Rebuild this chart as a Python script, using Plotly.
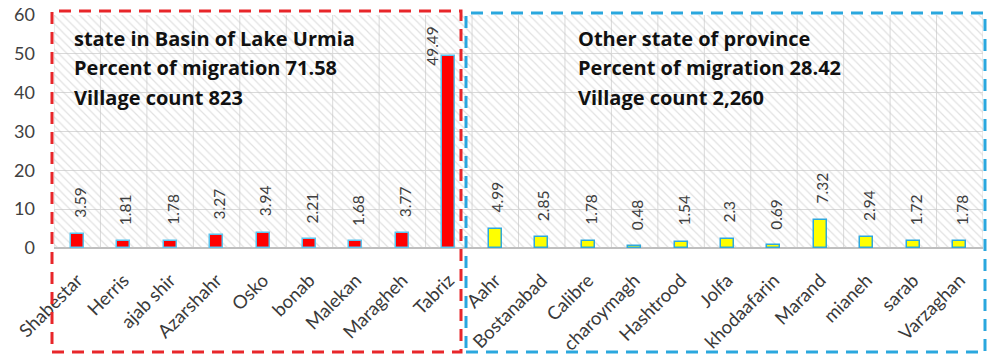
import plotly.graph_objects as go

basin_names = ["Shabestar", "Herris", "ajab shir", "Azarshahr", "Osko", "bonab", "Malekan", "Maragheh", "Tabriz"]
basin_values = [3.59, 1.81, 1.78, 3.27, 3.94, 2.21, 1.68, 3.77, 49.49]
basin_labels = ["3.59", "1.81", "1.78", "3.27", "3.94", "2.21", "1.68", "3.77", "49.49"]

other_names = ["Aahr", "Bostanabad", "Calibre", "charoymagh", "Hashtrood", "Jolfa", "khodaafarin",
               "Marand", "mianeh", "sarab", "Varzaghan"]
other_values = [4.99, 2.85, 1.78, 0.48, 1.54, 2.3, 0.69, 7.32, 2.94, 1.72, 1.78]
other_labels = ["4.99", "2.85", "1.78", "0.48", "1.54", "2.3", "0.69", "7.32", "2.94", "1.72", "1.78"]

basin_text = ["state in Basin of Lake Urmia", "Percent of migration 71.58", "Village count 823"]
other_text = ["Other state of province", "Percent of migration 28.42", "Village count 2,260"]

y_max = 60
all_names = basin_names + other_names

W, H = 992, 356
OFF = 0  # page body margin removed below
# target plot area in page pixels: x 54..983, y 15..248
ML, MR, MT, MB = 54 - OFF, W - (983 - OFF), 15 - OFF, H - (248 - OFF)
PW, PH = W - ML - MR, H - MT - MB

def px(x):
    return (x - OFF - ML) / PW

def py(y):
    return (H - MB - (y - OFF)) / PH

fig = go.Figure()

# hatched background
fig.add_trace(go.Bar(
    x=all_names, y=[y_max] * len(all_names), width=1,
    marker=dict(color="rgba(0,0,0,0)", line=dict(width=0),
                pattern=dict(shape="\\", fgcolor="#c4c4c4", bgcolor="rgba(0,0,0,0)",
                             size=6, solidity=0.2, fillmode="overlay")),
    hoverinfo="skip", showlegend=False,
))

fig.add_trace(go.Bar(
    x=basin_names, y=basin_values, width=0.28,
    marker=dict(color="#ff0000", line=dict(color="#5bc4ee", width=1.5)),
    showlegend=False,
))
fig.add_trace(go.Bar(
    x=other_names, y=other_values, width=0.28,
    marker=dict(color="#ffff00", line=dict(color="#2ea8dc", width=1.5)),
    showlegend=False,
))

font_val = dict(family="Lato", size=15.5, color="#404040")
for names, vals, labs in [(basin_names, basin_values, basin_labels), (other_names, other_values, other_labels)]:
    for n, v, t in zip(names, vals, labs):
        if v > y_max - 15:
            fig.add_annotation(x=n, y=y_max, text=t, textangle=-90, showarrow=False,
                               xanchor="center", yanchor="top", yshift=-9, xshift=-17, font=font_val)
        else:
            fig.add_annotation(x=n, y=v, text=t, textangle=-90, showarrow=False,
                               xanchor="center", yanchor="bottom", yshift=14, xshift=2, font=font_val)

font_title = dict(family="Open Sans", size=20, color="#111111")
for i, t in enumerate(basin_text):
    fig.add_annotation(xref="paper", yref="paper", x=px(72), y=py(38 + 29.5 * i), text="<b>%s</b>" % t,
                       showarrow=False, xanchor="left", yanchor="middle", font=font_title)
for i, t in enumerate(other_text):
    fig.add_annotation(xref="paper", yref="paper", x=px(576), y=py(38 + 29.5 * i), text="<b>%s</b>" % t,
                       showarrow=False, xanchor="left", yanchor="middle", font=font_title)

# dashed group boxes
fig.add_shape(type="rect", xref="paper", yref="paper",
              x0=px(52), x1=px(461), y0=py(352), y1=py(11),
              line=dict(color="#e8262a", width=3, dash="12px,8px"), layer="above")
fig.add_shape(type="rect", xref="paper", yref="paper",
              x0=px(466), x1=px(985), y0=py(352), y1=py(13),
              line=dict(color="#2aa7de", width=3, dash="12px,8px"), layer="above")

fig.update_layout(
    width=W, height=H,
    margin=dict(l=ML, r=MR, t=MT, b=MB, autoexpand=False),
    barmode="overlay",
    plot_bgcolor="white", paper_bgcolor="white",
    bargap=0,
    font=dict(family="Lato", color="#404040"),
)
fig.update_xaxes(
    type="category", tickangle=-45, tickfont=dict(family="Lato", size=18.5, color="#3a3a3a"),
    showgrid=False, showline=False, ticks="", range=[-0.5, len(all_names) - 0.5],
    automargin=False, ticklabelstandoff=17, ticklabeloverflow="allow",
)
fig.update_yaxes(
    range=[0, y_max], dtick=10, tickfont=dict(family="Lato", size=18, color="#404040"),
    showgrid=True, gridcolor="#d9d9d9", gridwidth=1, zeroline=True, zerolinecolor="#bfbfbf",
    showline=False, ticks="", ticklabelstandoff=18, automargin=False, ticklabeloverflow="allow",
)
# vertical gridlines at category boundaries
for i in range(len(all_names) + 1):
    fig.add_shape(type="line", xref="x", yref="paper", x0=i - 0.5, x1=i - 0.5, y0=0, y1=1,
                  line=dict(color="#d9d9d9", width=1), layer="below")

fig.write_html("out.html", config={"displayModeBar": False},
               post_script="document.body.style.margin='0px';")
